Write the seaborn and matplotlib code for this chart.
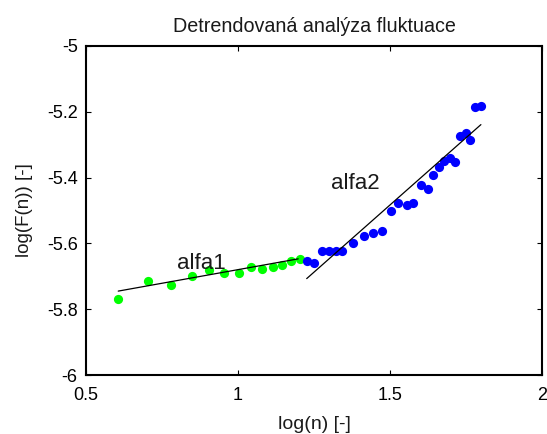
import numpy as np
import pandas as pd
import matplotlib
matplotlib.use("Agg")
import matplotlib.pyplot as plt
import seaborn as sns

# data
x_green = [0.606, 0.703, 0.780, 0.848, 0.906, 0.954, 1.002, 1.043, 1.079, 1.114, 1.145, 1.174, 1.203]
y_green = [-5.770, -5.714, -5.726, -5.699, -5.682, -5.689, -5.689, -5.672, -5.679, -5.672, -5.665, -5.655, -5.648]

x_blue = [1.226, 1.251, 1.277, 1.300, 1.322, 1.343, 1.377, 1.414, 1.443, 1.475, 1.503, 1.527,
          1.555, 1.577, 1.601, 1.624, 1.640, 1.660, 1.678, 1.697, 1.714, 1.730, 1.750, 1.763,
          1.781, 1.799]
y_blue = [-5.654, -5.661, -5.622, -5.622, -5.622, -5.622, -5.600, -5.578, -5.568, -5.561, -5.500, -5.478,
          -5.484, -5.478, -5.424, -5.434, -5.391, -5.369, -5.351, -5.340, -5.352, -5.275, -5.263, -5.285,
          -5.186, -5.182]

# fitted lines (endpoints)
fit1_x = [0.606, 1.198]
fit1_y = [-5.745, -5.647]
fit2_x = [1.226, 1.799]
fit2_y = [-5.707, -5.239]

x_ticks = [0.5, 1, 1.5, 2]
x_tick_labels = ["0.5", "1", "1.5", "2"]
y_ticks = [-6, -5.8, -5.6, -5.4, -5.2, -5]
y_tick_labels = ["-6", "-5.8", "-5.6", "-5.4", "-5.2", "-5"]

title = "Detrendovaná analýza fluktuace"
xlabel = "log(n) [-]"
ylabel = "log(F(n)) [-]"

sns.set_theme(style="white")
plt.rcParams["font.family"] = ["Liberation Sans", "DejaVu Sans"]

fig = plt.figure(figsize=(5.47, 4.34), dpi=100)
ax = fig.add_axes([86 / 547, 1 - 375 / 434, (542 - 86) / 547, (375 - 46) / 434])

df_g = pd.DataFrame({"x": x_green, "y": y_green})
df_b = pd.DataFrame({"x": x_blue, "y": y_blue})
sns.scatterplot(data=df_g, x="x", y="y", ax=ax, color="#00ff00", s=44, linewidth=0, zorder=3)
sns.scatterplot(data=df_b, x="x", y="y", ax=ax, color="#0000ff", s=44, linewidth=0, zorder=3)
sns.lineplot(x=fit1_x, y=fit1_y, ax=ax, color="black", linewidth=0.9, zorder=4)
sns.lineplot(x=fit2_x, y=fit2_y, ax=ax, color="black", linewidth=0.9, zorder=4)

ax.text(0.80, -5.678, "alfa1", fontsize=16, color="#1a1a1a", zorder=5)
ax.text(1.305, -5.435, "alfa2", fontsize=16, color="#1a1a1a", zorder=5)

ax.set_xlim(0.5, 2)
ax.set_ylim(-6, -5)
ax.set_xticks(x_ticks)
ax.set_xticklabels(x_tick_labels)
ax.set_yticks(y_ticks)
ax.set_yticklabels(y_tick_labels)
ax.tick_params(direction="in", length=3.5, width=0.8, labelsize=13, colors="black",
               top=True, right=True, bottom=True, left=True, pad=6)
ax.tick_params(axis="x", pad=9)
for sp in ax.spines.values():
    sp.set_visible(True)
    sp.set_color("black")
    sp.set_linewidth(1.5)

ax.set_title(title, fontsize=14.2, color="#1a1a1a", pad=10)
ax.set_xlabel(xlabel, fontsize=14, color="#1a1a1a", labelpad=8)
ax.set_ylabel(ylabel, fontsize=13.5, color="#1a1a1a", labelpad=10)
ax.grid(False)

fig.savefig("out.png", dpi=100, facecolor="white")
